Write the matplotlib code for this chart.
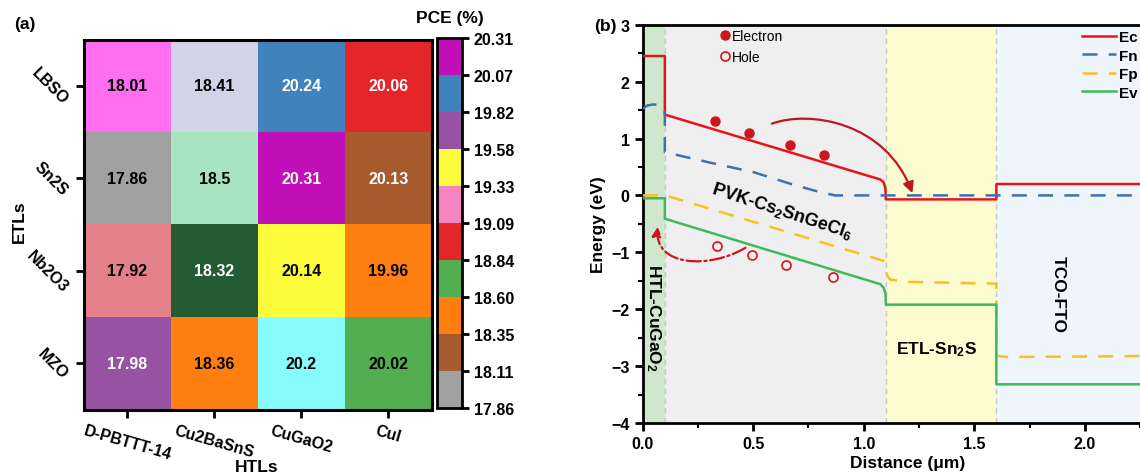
import matplotlib
matplotlib.use("Agg")
import matplotlib.pyplot as plt
import numpy as np
from matplotlib.colors import ListedColormap, BoundaryNorm, to_rgb
from matplotlib.cm import ScalarMappable
from matplotlib.patches import FancyArrowPatch
from matplotlib.path import Path

plt.rcParams['font.family'] = ['Liberation Sans', 'DejaVu Sans']
plt.rcParams['font.weight'] = 'bold'
plt.rcParams['axes.labelweight'] = 'bold'
plt.rcParams['mathtext.default'] = 'regular'

# ---- panel (a) data ----
etls = ['LBSO', 'Sn2S', 'Nb2O3', 'MZO']
htls = ['D-PBTTT-14', 'Cu2BaSnS', 'CuGaO2', 'CuI']
pce = np.array([[18.01, 18.41, 20.24, 20.06],
                [17.86, 18.50, 20.31, 20.13],
                [17.92, 18.32, 20.14, 19.96],
                [17.98, 18.36, 20.20, 20.02]])
cell_colors = ['#ff6ef0', '#d2d3e6', '#3f82bc', '#e3262a',
               '#a0a0a0', '#a6e4c2', '#c20fb8', '#a65a2e',
               '#e4808a', '#245a34', '#fcfc3c', '#ff8010',
               '#9752a4', '#ff8010', '#88fcfc', '#52ae50']
cbar_ticks = [17.86, 18.11, 18.35, 18.60, 18.84, 19.09, 19.33, 19.58, 19.82, 20.07, 20.31]
cbar_colors = ['#a0a0a0', '#a65a2e', '#ff8010', '#52ae50', '#e3262a',
               '#f585c0', '#fcfc3c', '#9752a4', '#3f82bc', '#c20fb8']

# ---- panel (b) data ----
ec_x = [0.0, 0.1, 0.1, 1.075, 1.09, 1.098, 1.1, 1.6, 1.6, 2.4]
ec_y = [2.45, 2.45, 1.42, 0.28, 0.23, 0.12, -0.07, -0.07, 0.2, 0.2]
fn_x = [0.0, 0.02, 0.05, 0.08, 0.1, 0.1, 0.3, 0.5, 0.68, 0.8, 0.87, 0.95, 2.4]
fn_y = [1.52, 1.58, 1.6, 1.58, 1.5, 0.76, 0.58, 0.41, 0.19, 0.06, 0.0, 0.0, 0.0]
fp_x = [0.0, 0.1, 0.12, 1.09, 1.1, 1.105, 1.12, 1.2, 1.6, 1.6, 1.65, 2.4]
fp_y = [0.0, 0.0, -0.02, -1.15, -1.25, -1.4, -1.48, -1.52, -1.55, -2.82, -2.84, -2.82]
ev_x = [0.0, 0.1, 0.1, 1.075, 1.09, 1.098, 1.1, 1.6, 1.6, 2.4]
ev_y = [-0.05, -0.05, -0.41, -1.56, -1.62, -1.72, -1.92, -1.92, -3.32, -3.32]
electron_x = [0.325, 0.48, 0.665, 0.82]
electron_y = [1.30, 1.10, 0.89, 0.71]
hole_x = [0.336, 0.496, 0.648, 0.86]
hole_y = [-0.89, -1.05, -1.23, -1.44]
layers = [(0.0, 0.1, '#cfe7cd'), (0.1, 1.1, '#efefef'), (1.1, 1.6, '#fdfbd0'), (1.6, 2.4, '#eef6fb')]

fig = plt.figure(figsize=(11.4, 4.77), dpi=100)

# ================= (a) heatmap =================
ax1 = fig.add_axes([0.0737, 0.139, 0.305, 0.7757])
idx = np.arange(16).reshape(4, 4)
ax1.imshow(idx, cmap=ListedColormap(cell_colors), aspect='auto', interpolation='nearest')
for i in range(4):
    for j in range(4):
        r, g, b = to_rgb(cell_colors[i * 4 + j])
        lum = 0.299 * r + 0.587 * g + 0.114 * b
        ax1.text(j, i, f"{pce[i, j]:g}", ha='center', va='center', fontsize=11.5,
                 color='white' if lum < 0.5 else 'black')
ax1.set_xticks(range(4))
ax1.set_xticklabels(htls, rotation=-16, ha='center', fontsize=11.5)
ax1.set_yticks(range(4))
ax1.set_yticklabels(etls, rotation=-45, ha='right', va='center', fontsize=11.5)
ax1.tick_params(direction='out', length=6, width=2)
for s in ax1.spines.values():
    s.set_linewidth(2.2)
ax1.set_xlabel('HTLs', fontsize=12.5)
ax1.set_ylabel('ETLs', fontsize=12.5)
ax1.xaxis.set_label_coords(0.498, -0.132)
ax1.yaxis.set_label_coords(-0.165, 0.51)

cax = fig.add_axes([0.3833, 0.1419, 0.0217, 0.7757])
norm = BoundaryNorm(cbar_ticks, 10)
cb = fig.colorbar(ScalarMappable(norm=norm, cmap=ListedColormap(cbar_colors)), cax=cax,
                  ticks=cbar_ticks, format='%.2f')
cb.outline.set_linewidth(2)
cax.tick_params(direction='out', length=5, width=2, labelsize=11.5)
fig.text(450 / 1140, 1 - 19 / 477, 'PCE (%)', ha='center', va='center', fontsize=12.5)
fig.text(25 / 1140, 1 - 25 / 477, '(a)', ha='center', va='center', fontsize=12.5)

# ================= (b) band diagram =================
ax2 = fig.add_axes([0.5638, 0.1111, 0.4653, 0.835])
for x0, x1, c in layers:
    ax2.axvspan(x0, x1, color=c, zorder=0, lw=0)
for xb in [0.1, 1.1, 1.6]:
    ax2.axvline(xb, color='#c8c8c8', ls=(0, (4, 3)), lw=1, zorder=1)

ax2.plot(ec_x, ec_y, color='#e8141c', lw=1.8, label='Ec', zorder=3)
ax2.plot(fn_x, fn_y, color='#3d72ad', lw=1.8, dashes=(6, 4.5), label='Fn', zorder=3)
ax2.plot(fp_x, fp_y, color='#f8c020', lw=1.8, dashes=(6, 4.5), label='Fp', zorder=3)
ax2.plot(ev_x, ev_y, color='#3cba5c', lw=1.8, label='Ev', zorder=3)
el, = ax2.plot(electron_x, electron_y, 'o', ls='none', color='#d0141c', ms=6.5, zorder=4)
ho, = ax2.plot(hole_x, hole_y, 'o', ls='none', mfc='none', mec='#d0141c', mew=1.2, ms=6.5, zorder=4)

# electron transfer arrow
arr1 = FancyArrowPatch(path=Path([(0.584, 1.26), (0.75, 1.5), (1.1, 1.3), (1.22, 0.04)],
                                 [Path.MOVETO, Path.CURVE4, Path.CURVE4, Path.CURVE4]),
                       arrowstyle='-|>', mutation_scale=16, color='#c0161c', lw=1.6, zorder=5)
ax2.add_patch(arr1)
# hole transfer arrow
arr2 = FancyArrowPatch(path=Path([(0.465, -0.92), (0.3, -1.3), (0.05, -1.25), (0.068, -0.55)],
                                 [Path.MOVETO, Path.CURVE4, Path.CURVE4, Path.CURVE4]),
                       arrowstyle='-|>', mutation_scale=14, color='#d0141c', lw=1.6,
                       ls='-.', zorder=5)
ax2.add_patch(arr2)

ax2.text(0.63, -0.27, 'PVK-Cs$_2$SnGeCl$_6$', rotation=-18, ha='center', va='center', fontsize=13)
ax2.text(1.33, -2.69, 'ETL-Sn$_2$S', ha='center', va='center', fontsize=12.5)
ax2.text(1.88, -1.73, 'TCO-FTO', rotation=-90, ha='center', va='center', fontsize=12.5)
ax2.text(0.05, -2.14, 'HTL-CuGaO$_2$', rotation=-90, ha='center', va='center', fontsize=12.5)

ax2.set_xlim(0, 2.4)
ax2.set_ylim(-4, 3)
ax2.set_xticks([0, 0.5, 1.0, 1.5, 2.0])
ax2.set_xticks(np.arange(0.25, 2.4, 0.5), minor=True)
ax2.set_yticks(range(-4, 4))
ax2.set_yticks(np.arange(-3.5, 3, 1.0), minor=True)
ax2.xaxis.set_major_formatter(matplotlib.ticker.FormatStrFormatter('%.1f'))
ax2.tick_params(which='major', direction='out', length=6, width=2, labelsize=11.5)
ax2.tick_params(which='minor', direction='out', length=3.5, width=1.5)
for s in ax2.spines.values():
    s.set_linewidth(2)
ax2.set_xlabel('Distance (\u03bcm)', fontsize=12.5, labelpad=3)
ax2.set_ylabel('Energy (eV)', fontsize=12.5, labelpad=4)

leg1 = ax2.legend(loc='upper left', bbox_to_anchor=(1082 / 1140, 1 - 31 / 477),
                  bbox_transform=fig.transFigure, frameon=False, fontsize=11,
                  handlelength=2.2, handletextpad=0.25, labelspacing=0.3,
                  borderpad=0, borderaxespad=0)
ax2.add_artist(leg1)
ax2.legend([el, ho], ['Electron', 'Hole'], loc='upper left',
           bbox_to_anchor=(721 / 1140, 1 - 30 / 477), bbox_transform=fig.transFigure,
           frameon=False, prop={'size': 10, 'weight': 'normal'}, handlelength=0.6,
           handletextpad=0.2, labelspacing=0.5, borderpad=0, borderaxespad=0)

fig.text(605 / 1140, 1 - 26 / 477, '(b)', ha='center', va='center', fontsize=12.5)

fig.savefig('out.png', dpi=100)
